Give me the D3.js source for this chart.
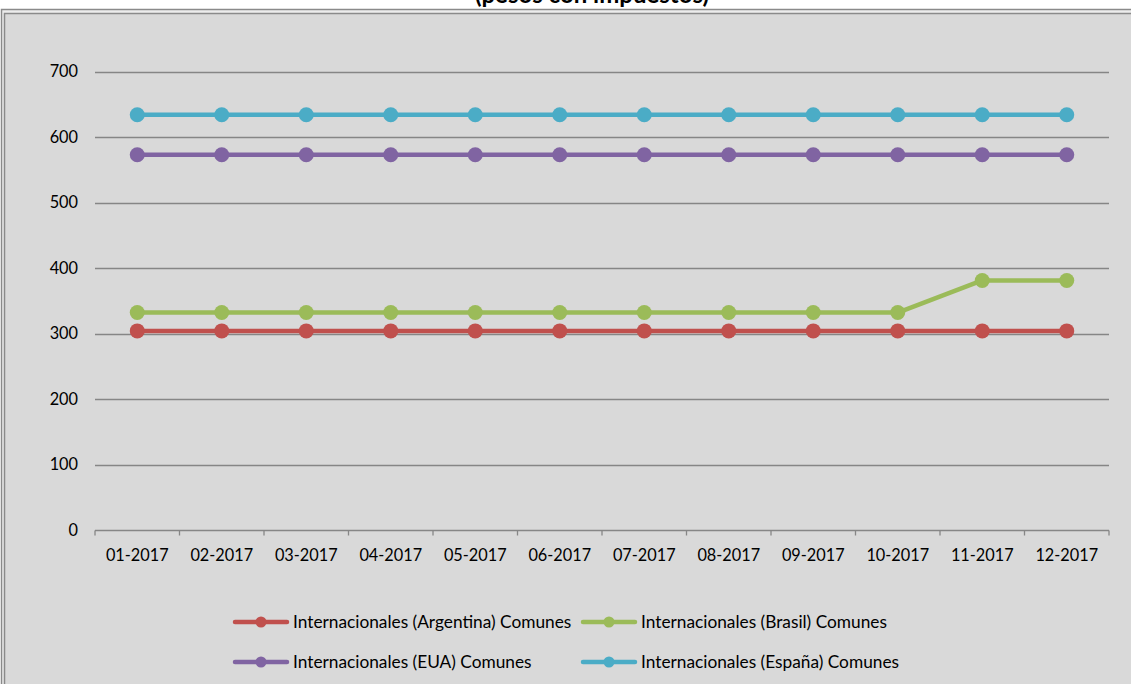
<!DOCTYPE html>
<html><head><meta charset="utf-8">
<script src="https://cdn.jsdelivr.net/npm/d3@7"></script>
<style>html,body{margin:0;padding:0;background:#fff;overflow:hidden}</style>
</head><body>
<svg id="c" width="1131" height="684"></svg>
<script>
const months = ["01-2017","02-2017","03-2017","04-2017","05-2017","06-2017","07-2017","08-2017","09-2017","10-2017","11-2017","12-2017"];
const argentina = [304,304,304,304,304,304,304,304,304,304,304,304];
const brasil = [332,332,332,332,332,332,332,332,332,332,381,381];
const eua = [573,573,573,573,573,573,573,573,573,573,573,573];
const espana = [634,634,634,634,634,634,634,634,634,634,634,634];
const yTicks = [0,100,200,300,400,500,600,700];
const seriesNames = ["Internacionales (Argentina) Comunes","Internacionales (Brasil) Comunes","Internacionales (EUA) Comunes","Internacionales (España) Comunes"];
const seriesColors = ["#c0504d","#9bbb59","#8064a2","#4bacc6"];
const seriesData = [argentina, brasil, eua, espana];

const svg = d3.select("#c");
const font = "Lato, 'Carlito', Calibri, sans-serif";

// frame
svg.append("rect").attr("x",1.5).attr("y",9.5).attr("width",1200).attr("height",760)
  .attr("fill","#ececec").attr("stroke","#8a8a8a").attr("stroke-width",1.5);
svg.append("rect").attr("x",4.5).attr("y",13.5).attr("width",1200).attr("height",760)
  .attr("fill","#d9d9d9").attr("stroke","#8a8a8a").attr("stroke-width",1.5);

// title (mostly cropped, as in the reference)
svg.append("text").attr("x",592).attr("y",2.5).attr("text-anchor","middle")
  .attr("font-family",font).attr("font-weight","bold").attr("font-size",24)
  .attr("fill","#000").text("(pesos con impuestos)");

const x = d3.scaleBand().domain(months).range([95,1109]);
const y = d3.scaleLinear().domain([0,700]).range([530,71.5]);

// gridlines
svg.append("g").selectAll("line").data(yTicks.filter(d=>d>0)).join("line")
  .attr("x1",95).attr("x2",1109).attr("y1",d=>Math.round(y(d))+0.5).attr("y2",d=>Math.round(y(d))+0.5)
  .attr("stroke","#868686").attr("stroke-width",1.3);

// y axis labels
svg.append("g").selectAll("text").data(yTicks).join("text")
  .attr("x",78).attr("y",d=>y(d)).attr("dy","0.35em").attr("text-anchor","end")
  .attr("font-family",font).attr("font-size",16.3).attr("fill","#000").text(d=>d);

// x axis
const gx = svg.append("g").attr("transform","translate(0,"+(Math.round(y(0))+0.5)+")");
gx.append("line").attr("x1",95).attr("x2",1109).attr("stroke","#868686").attr("stroke-width",1.3);
const bounds = months.map(m=>x(m)).concat([x.range()[1]]);
gx.selectAll("line.tk").data(bounds).join("line").attr("class","tk")
  .attr("x1",d=>d).attr("x2",d=>d).attr("y1",0).attr("y2",5)
  .attr("stroke","#868686").attr("stroke-width",1.3);
gx.selectAll("text.lb").data(months).join("text").attr("class","lb")
  .attr("x",d=>x(d)+x.bandwidth()/2).attr("y",30).attr("text-anchor","middle")
  .attr("font-family",font).attr("font-size",16.3).attr("fill","#000").text(d=>d);

// series
const line = d3.line().x((d,i)=>x(months[i])+x.bandwidth()/2).y(d=>y(d));
seriesData.forEach((s,k)=>{
  const g = svg.append("g");
  g.append("path").datum(s).attr("d",line).attr("fill","none")
    .attr("stroke",seriesColors[k]).attr("stroke-width",4.5).attr("stroke-linejoin","round");
  g.selectAll("circle").data(s).join("circle")
    .attr("cx",(d,i)=>x(months[i])+x.bandwidth()/2).attr("cy",d=>y(d)).attr("r",7.5)
    .attr("fill",seriesColors[k]);
});

// legend
const legPos = [[233,622],[581,622],[233,662],[581,662]];
seriesNames.forEach((n,k)=>{
  const [lx,ly] = legPos[k];
  const g = svg.append("g");
  g.append("line").attr("x1",lx+2).attr("x2",lx+54).attr("y1",ly).attr("y2",ly)
    .attr("stroke",seriesColors[k]).attr("stroke-width",4.5).attr("stroke-linecap","round");
  g.append("circle").attr("cx",lx+28).attr("cy",ly).attr("r",5.5).attr("fill",seriesColors[k]);
  g.append("text").attr("x",lx+60).attr("y",ly).attr("dy","0.35em")
    .attr("font-family",font).attr("font-size",17.3).attr("fill","#000").text(n);
});
</script>
</body></html>
